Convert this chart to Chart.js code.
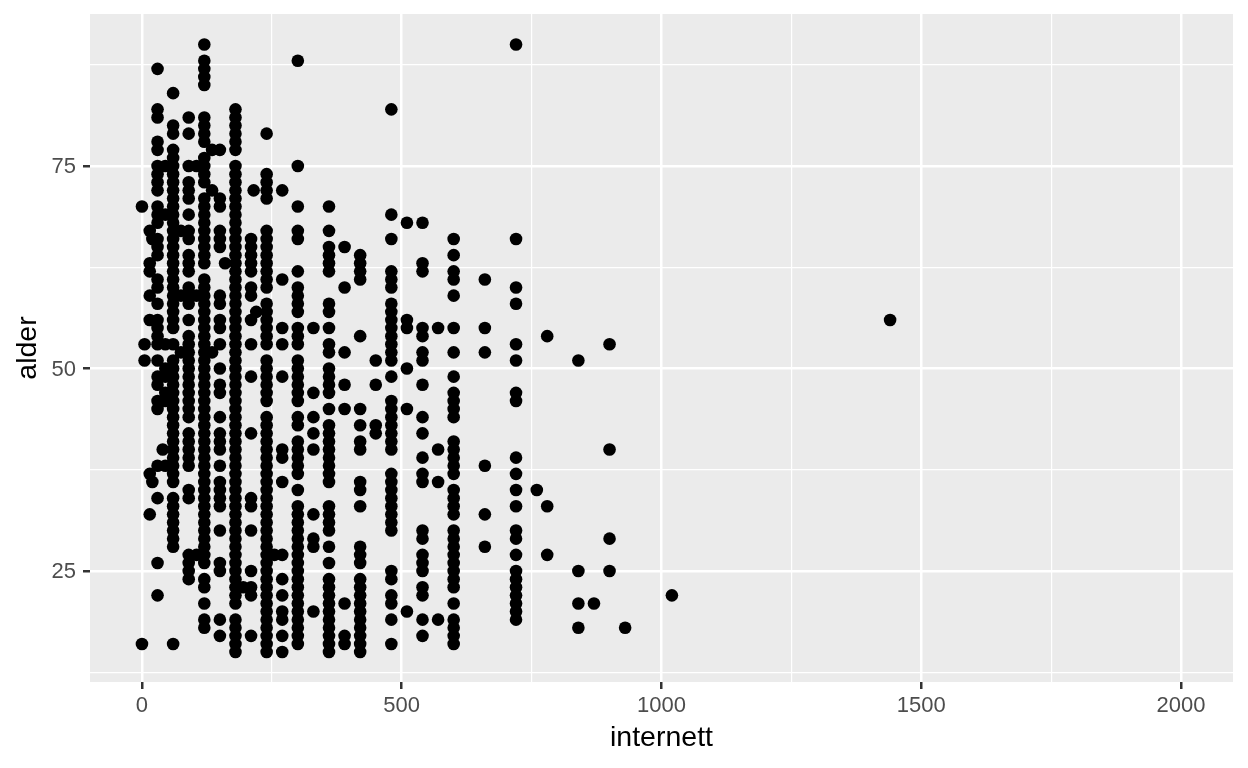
<!DOCTYPE html>
<html>
<head>
<meta charset="utf-8">
<script src="https://cdn.jsdelivr.net/npm/chart.js@4"></script>
<style>
	body { margin: 0; background: #fff; }
	canvas { display: block; }
</style>
</head>
<body>
<canvas id="myChart" width="1248" height="768"></canvas>
<script>
const X_MAJOR = [0, 500, 1000, 1500, 2000];
const X_MINOR = [250, 750, 1250, 1750];
const Y_MAJOR = [25, 50, 75];
const Y_MINOR = [12.5, 37.5, 62.5, 87.5];

// alder values per internett minutes, read column by column
const a0 = [70, 16];
const a5 = [53, 51];
const a15 = [67, 63, 62, 59, 56, 37, 32];
const a20 = [66, 36];
const a30 = [87, 82, 81, 78, 77, 75, 74, 73, 72, 70, 69, 68, 66, 65, 64, 61, 60, 58, 56, 55, 54, 53, 51, 49, 48, 46, 45, 38, 34, 26, 22];
const a40 = [40];
const a45 = [75, 69, 53, 50, 49, 47, 46, 38];
const a60 = [84, 80, 79, 77, 76, 75, 74, 73, 72, 71, 70, 69, 68, 67, 66, 65, 64, 63, 62, 61, 60, 59, 58, 57, 56, 55, 53, 51, 50, 49, 48, 47, 46, 45, 44, 43, 42, 41, 40, 39, 38, 37, 36, 34, 33, 32, 31, 30, 29, 28, 16];
const a75 = [67, 59, 52];
const a90 = [81, 79, 75, 73, 72, 71, 69, 67, 66, 64, 63, 62, 60, 59, 58, 56, 54, 53, 52, 51, 50, 49, 48, 47, 46, 45, 44, 42, 41, 40, 39, 38, 35, 34, 27, 26, 25, 24];
const a105 = [75, 59, 27];
const a120 = [90, 88, 87, 86, 85, 81, 80, 79, 78, 76, 75, 74, 73, 71, 70, 69, 68, 67, 66, 65, 64, 63, 61, 60, 59, 58, 57, 56, 55, 54, 53, 52, 51, 50, 49, 48, 47, 46, 45, 44, 43, 42, 41, 40, 39, 38, 37, 36, 35, 34, 33, 32, 31, 30, 29, 28, 27, 26, 24, 23, 21, 19, 18];
const a135 = [77, 72, 52];
const a150 = [77, 71, 70, 67, 66, 65, 59, 58, 56, 55, 53, 50, 48, 47, 44, 42, 41, 40, 38, 36, 35, 34, 33, 30, 26, 25, 19, 17];
const a160 = [63];
const a180 = [82, 81, 80, 79, 78, 77, 75, 74, 73, 72, 71, 70, 69, 68, 67, 66, 65, 64, 63, 62, 61, 60, 59, 58, 57, 56, 55, 54, 53, 52, 51, 50, 49, 48, 47, 46, 45, 44, 43, 42, 41, 40, 39, 38, 37, 36, 35, 34, 33, 32, 31, 30, 29, 28, 27, 26, 25, 24, 23, 22, 21, 19, 18, 17, 16, 15];
const a195 = [23];
const a210 = [66, 65, 64, 63, 62, 60, 59, 56, 53, 49, 42, 34, 33, 30, 25, 23, 22, 17];
const a215 = [72];
const a220 = [57];
const a240 = [79, 74, 73, 72, 71, 67, 66, 65, 64, 63, 62, 61, 60, 58, 57, 56, 55, 54, 53, 51, 50, 49, 48, 47, 46, 44, 43, 42, 41, 40, 39, 38, 37, 36, 35, 34, 33, 32, 31, 30, 29, 28, 27, 26, 25, 24, 23, 22, 21, 20, 19, 18, 17, 16, 15];
const a255 = [27];
const a270 = [72, 61, 55, 53, 49, 40, 39, 36, 27, 24, 22, 20, 19, 17, 15];
const a300 = [88, 75, 70, 67, 66, 62, 60, 59, 58, 57, 55, 54, 53, 51, 50, 49, 48, 47, 46, 44, 43, 41, 40, 39, 38, 37, 35, 33, 32, 31, 30, 29, 28, 27, 26, 25, 24, 23, 22, 21, 20, 19, 18, 17, 16];
const a330 = [55, 47, 44, 42, 40, 32, 29, 28, 20];
const a360 = [70, 67, 65, 64, 63, 62, 58, 57, 55, 53, 52, 50, 49, 48, 47, 45, 43, 42, 41, 40, 39, 38, 37, 36, 33, 32, 31, 30, 28, 26, 24, 23, 22, 21, 20, 19, 18, 17, 16, 15];
const a390 = [65, 60, 52, 48, 45, 21, 17, 16];
const a420 = [64, 63, 62, 61, 54, 45, 43, 41, 40, 36, 35, 33, 28, 27, 26, 24, 23, 22, 21, 20, 19, 18, 17, 16, 15];
const a450 = [51, 48, 43, 42];
const a480 = [82, 69, 66, 62, 61, 60, 58, 57, 56, 55, 54, 53, 52, 51, 49, 46, 45, 44, 43, 42, 41, 40, 37, 36, 35, 34, 33, 32, 31, 30, 25, 24, 22, 21, 19, 16];
const a510 = [68, 56, 55, 50, 45, 20];
const a540 = [68, 63, 62, 55, 54, 52, 51, 48, 44, 42, 39, 37, 36, 30, 29, 27, 26, 25, 23, 22, 19, 17];
const a570 = [55, 40, 36, 19];
const a600 = [66, 64, 62, 61, 59, 55, 52, 49, 47, 46, 45, 44, 41, 40, 39, 38, 37, 35, 34, 33, 32, 30, 29, 28, 27, 26, 25, 24, 23, 21, 19, 18, 17, 16];
const a660 = [61, 55, 52, 38, 32, 28];
const a720 = [90, 66, 60, 58, 53, 51, 47, 46, 39, 37, 35, 33, 30, 29, 27, 25, 24, 23, 22, 21, 20, 19];
const a760 = [35];
const a780 = [54, 33, 27];
const a840 = [51, 25, 21, 18];
const a870 = [21];
const a900 = [53, 40, 29, 25];
const a930 = [18];
const a1020 = [22];
const a1440 = [56];

const columns = [
	[0, a0], [5, a5], [15, a15], [20, a20], [30, a30], [40, a40], [45, a45], [60, a60], [75, a75], [90, a90],
	[105, a105], [120, a120], [135, a135], [150, a150], [160, a160], [180, a180], [195, a195],
	[210, a210], [215, a215], [220, a220], [240, a240], [255, a255], [270, a270], [300, a300],
	[330, a330], [360, a360], [390, a390], [420, a420], [450, a450], [480, a480], [510, a510],
	[540, a540], [570, a570], [600, a600], [660, a660], [720, a720], [760, a760], [780, a780],
	[840, a840], [870, a870], [900, a900], [930, a930], [1020, a1020], [1440, a1440]
];

function createChart() {
	let points = [];
	columns.forEach(c => {
		c[1].forEach(age => points.push({ x: c[0], y: age }));
	});

	// grey panel behind the grid
	let panel = {
		id: "panel",
		beforeDraw: function (chart) {
			let a = chart.chartArea;
			chart.ctx.fillStyle = "#ebebeb";
			chart.ctx.fillRect(a.left, a.top, a.right - a.left, a.bottom - a.top);
		}
	};

	function scaleOptions(major, minor, title, min, max, fit, tickPad, labelShift, titlePad) {
		let isMajor = v => major.includes(v);
		return {
			type: "linear",
			min: min,
			max: max,
			afterBuildTicks: function (s) {
				s.ticks = major.concat(minor).sort((a, b) => a - b).map(v => ({ value: v }));
			},
			afterFit: fit,
			border: { display: false },
			grid: {
				drawTicks: true,
				tickLength: 7,
				color: "#ffffff",
				lineWidth: c => isMajor(c.tick.value) ? 2.5 : 1.2,
				tickColor: c => isMajor(c.tick.value) ? "#333333" : "rgba(0,0,0,0)",
				tickWidth: 2.5
			},
			ticks: {
				autoSkip: false,
				maxRotation: 0,
				padding: tickPad,
				labelOffset: labelShift,
				color: "#4d4d4d",
				font: { family: "Liberation Sans", size: 22 },
				callback: v => isMajor(v) ? String(v) : ""
			},
			title: {
				display: true,
				text: title,
				color: "#000000",
				font: { family: "Liberation Sans", size: 28.5 },
				padding: titlePad
			}
		};
	}

	let fitX = s => { s.height = 86; s.paddingLeft = 0; s.paddingRight = 0; };
	let fitY = s => { s.width = 90; s.paddingTop = 0; s.paddingBottom = 0; };

	new Chart(document.getElementById("myChart"), {
		type: "scatter",
		data: {
			datasets: [{
				data: points,
				backgroundColor: "#000000",
				borderWidth: 0,
				pointRadius: 6.3
			}]
		},
		options: {
			responsive: false,
			animation: false,
			layout: { padding: { top: 14, right: 15 } },
			plugins: { legend: { display: false }, tooltip: { enabled: false } },
			scales: {
				x: scaleOptions(X_MAJOR, X_MINOR, "internett", -100, 2100, fitX, 4, 0, { top: 0, bottom: 13 }),
				y: scaleOptions(Y_MAJOR, Y_MINOR, "alder", 11.3, 93.77, fitY, 7, 1, { top: 11, bottom: 0 })
			}
		},
		plugins: [panel]
	});
}
createChart();
</script>
</body>
</html>
